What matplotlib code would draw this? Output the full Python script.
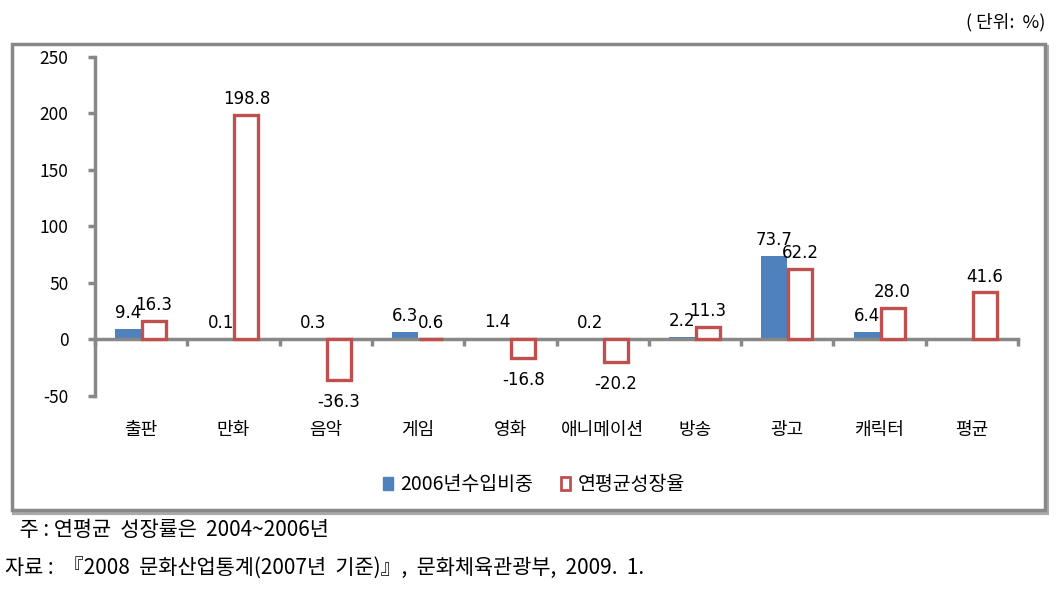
import numpy as np
import matplotlib
matplotlib.use('Agg')
import matplotlib.pyplot as plt
from matplotlib.patches import Rectangle, Patch
from matplotlib.transforms import blended_transform_factory

plt.rcParams['font.family'] = ['Noto Sans CJK KR', 'DejaVu Sans']

categories = ['출판', '만화', '음악', '게임', '영화', '애니메이션', '방송', '광고', '캐릭터', '평균']
share_2006 = [9.4, 0.1, 0.3, 6.3, 1.4, 0.2, 2.2, 73.7, 6.4, None]
growth = [16.3, 198.8, -36.3, 0.6, -16.8, -20.2, 11.3, 62.2, 28.0, 41.6]
yticks = [250, 200, 150, 100, 50, 0, -50]

blue = '#4F81BD'
red = '#C0504D'
gray = '#888888'

fig = plt.figure(figsize=(10.62, 6.09), dpi=100)

# outer frame around the chart
fig.patches.append(Rectangle((0.0135, 0.158), 0.972, 0.765, transform=fig.transFigure,
                             facecolor='none', edgecolor='#aaaaaa', lw=3, zorder=-2))
fig.patches.append(Rectangle((0.0113, 0.1626), 0.9727, 0.7652, transform=fig.transFigure,
                             facecolor='white', edgecolor=gray, lw=2.5, zorder=-1))

ax = fig.add_axes([0.0895, 0.3498, 0.8691, 0.5566])
ax.patch.set_alpha(0)

x = np.arange(len(categories))
w = 0.28
bx = [i - w / 2 for i, v in zip(x, share_2006) if v is not None]
bv = [v for v in share_2006 if v is not None]
ax.bar(bx, bv, width=w, color=blue, zorder=2)
ax.bar(x + w / 2, growth, width=w - 0.02, facecolor='white', edgecolor=red, lw=2.4, zorder=3)

lab = dict(ha='center', fontsize=12, family='DejaVu Sans', textcoords='offset points')
for xi, v in zip(bx, bv):
    ax.annotate(f'{v:.1f}', (xi, v), xytext=(0, 5), va='bottom', **lab)
for xi, v in zip(x + w / 2, growth):
    if v >= 0:
        ax.annotate(f'{v:.1f}', (xi, v), xytext=(0, 5), va='bottom', **lab)
    else:
        ax.annotate(f'{v:.1f}', (xi, v), xytext=(0, -9), va='top', **lab)

ax.set_xlim(-0.5, len(categories) - 0.5)
ax.set_ylim(-50, 250)
ax.set_yticks(yticks)
ax.set_yticklabels([str(t) for t in yticks], fontsize=12.5)
ax.set_xticks(np.arange(-0.5, len(categories), 1.0))
ax.set_xticklabels([])
ax.spines['top'].set_visible(False)
ax.spines['right'].set_visible(False)
ax.spines['bottom'].set_position(('data', 0))
for s in ['left', 'bottom']:
    ax.spines[s].set_color(gray)
    ax.spines[s].set_linewidth(2.5)
ax.tick_params(axis='both', colors=gray, width=2.5, length=5, labelcolor='black')
ax.tick_params(axis='y', pad=14)

tr = blended_transform_factory(ax.transData, ax.transAxes)
for xi, c in zip(x, categories):
    ax.text(xi, -0.1, c, transform=tr, ha='center', va='center', fontsize=13)

handles = [Patch(facecolor=blue, edgecolor=blue),
           Patch(facecolor='white', edgecolor=red, lw=2)]
fig.legend(handles, ['2006년수입비중', '연평균성장율'], loc='center', bbox_to_anchor=(0.503, 0.204),
           ncol=2, frameon=False, fontsize=14, handlelength=0.5, handleheight=0.7,
           handletextpad=0.4, columnspacing=1.4)

fig.text(0.984, 0.964, '( 단위:  %)', ha='right', va='center', fontsize=13)
fig.text(0.014, 0.13, ' 주 : 연평균  성장률은  2004~2006년', ha='left', va='center', fontsize=15)
fig.text(0.005, 0.067, '자료 :  『2008  문화산업통계(2007년  기준)』,  문화체육관광부,  2009.  1.',
         ha='left', va='center', fontsize=15)

fig.savefig('out.png', dpi=100)
